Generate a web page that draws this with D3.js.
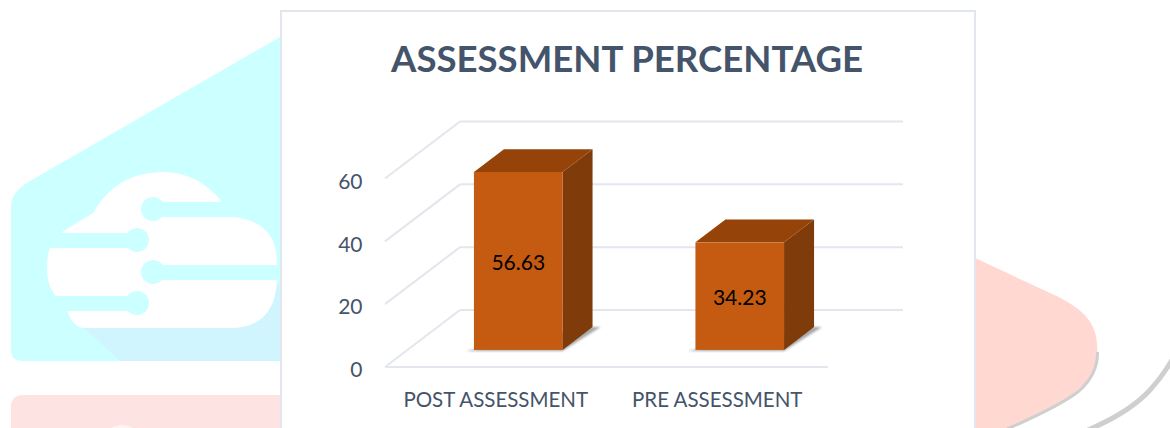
<!DOCTYPE html>
<html>
<head>
<meta charset="utf-8">
<script src="https://cdn.jsdelivr.net/npm/d3@7"></script>
<style>
  html, body { margin: 0; padding: 0; background: #fff; }
  svg { display: block; }
  text { font-family: Lato, sans-serif; }
</style>
</head>
<body>
<div id="chart"></div>
<script>
const categories = ["POST ASSESSMENT", "PRE ASSESSMENT"];
const values = [56.63, 34.23];
const yTicks = [0, 20, 40, 60];
const chartTitle = "ASSESSMENT PERCENTAGE";

const width = 1170, height = 428;
const textColor = "#44546a", gridColor = "#e3e6ec";

// floor of the 3d box: front edge and how far the back wall is shifted
const front = {left: 385, right: 828, y: 367};
const wall = {dx: 75, dy: -57};
// where the bars stand inside that depth
const barNear = 0.3, barFar = 0.7;

const svg = d3.select("#chart").append("svg")
    .attr("width", width)
    .attr("height", height);

// watermark behind the chart
const bg = svg.append("g");
bg.append("path")
    .attr("d", "M280,37 L30,181 Q11,192 11,206 L11,350 Q11,361 23,361 L280,361 Z")
    .attr("fill", "#ccffff");
bg.append("path")
    .attr("d", "M83,327 L120,361 L280,361 L280,282 L230,328 Z")
    .attr("fill", "#d0f5ff");
bg.append("path")
    .attr("d", "M62,232 L93,213 Q116,172 163,172 Q198,172 222,202 L222,217 L233,217 Q277,221 277,263 L277,280 Q275,328 230,328 L83,328 Q72,326 67,310 L55,295 Q47,285 47,270 Q47,255 50,248 Z")
    .attr("fill", "#ffffff");
[[40, 233, 137], [50, 296, 137], [153, 265, 280], [153, 202, 225]].forEach(s => {
  bg.append("rect").attr("x", s[0]).attr("y", s[1]).attr("width", s[2] - s[0]).attr("height", 15).attr("fill", "#ccffff");
});
[[137, 240], [137, 303], [153, 272], [153, 209]].forEach(c => {
  bg.append("circle").attr("cx", c[0]).attr("cy", c[1]).attr("r", 12).attr("fill", "#ccffff");
});
bg.append("path")
    .attr("d", "M11,428 L11,407 Q11,395 23,395 L280,395 L280,428 Z")
    .attr("fill", "#fde4e2");
bg.append("circle")
    .attr("cx", 122).attr("cy", 445).attr("r", 20)
    .attr("fill", "#fff4f0");
bg.append("path")
    .attr("d", "M1007,428 Q1060,405 1078,390 Q1100,372 1097,345 C1097,322 1080,306 1050,293 L975,258 L975,428 Z")
    .attr("fill", "#ffd8d2");
bg.append("path")
    .attr("d", "M1007,429 Q1060,406 1079,391 Q1098,374 1097.5,352")
    .attr("fill", "none").attr("stroke", "#cfcfcf").attr("stroke-width", 3);
bg.append("path")
    .attr("d", "M1088,430 Q1130,412 1150,390 Q1162,377 1172,360")
    .attr("fill", "none").attr("stroke", "#cfcfcf").attr("stroke-width", 5);

// white card
svg.append("rect")
    .attr("x", 281).attr("y", 11)
    .attr("width", 694).attr("height", 430)
    .attr("fill", "#fff")
    .attr("stroke", "#e2e7ee")
    .attr("stroke-width", 2);

svg.append("text")
    .attr("x", 627)
    .attr("y", 72)
    .attr("text-anchor", "middle")
    .attr("font-size", 36.6)
    .attr("font-weight", 700)
    .attr("fill", textColor)
    .text(chartTitle);

const x = d3.scaleBand()
    .domain(categories)
    .range([front.left, front.right])
    .paddingInner(0.6)
    .paddingOuter(0.3);

const y = d3.scaleLinear()
    .domain([0, 60])
    .range([0, 188.5]);

const g = svg.append("g");

// back wall, side wall and floor lines
yTicks.forEach(t => {
  const h = y(t);
  const backY = front.y + wall.dy - h;
  g.append("line")
      .attr("x1", front.left + wall.dx).attr("x2", front.right + wall.dx)
      .attr("y1", backY).attr("y2", backY)
      .attr("stroke", gridColor).attr("stroke-width", 2);
  g.append("line")
      .attr("x1", front.left).attr("x2", front.left + wall.dx)
      .attr("y1", front.y - h).attr("y2", backY)
      .attr("stroke", gridColor).attr("stroke-width", 2);
});
g.append("line")
    .attr("x1", front.left).attr("x2", front.right)
    .attr("y1", front.y).attr("y2", front.y)
    .attr("stroke", gridColor).attr("stroke-width", 2);

// value axis, only the labels show
g.append("g")
    .attr("transform", `translate(${front.left - 19.5},${front.y + 3})`)
    .call(d3.axisLeft(d3.scaleLinear().domain([0, 60]).range([0, -188.5])).tickValues(yTicks).tickSize(0))
    .call(a => a.select(".domain").remove())
    .call(a => a.selectAll("text").attr("font-size", 21).attr("fill", textColor).attr("font-family", "Lato, sans-serif"));

// category axis
g.append("g")
    .attr("transform", `translate(0,${front.y + 22})`)
    .call(d3.axisBottom(x).tickSize(0))
    .call(a => a.select(".domain").remove())
    .call(a => a.selectAll("text").attr("font-size", 20.5).attr("fill", textColor).attr("font-family", "Lato, sans-serif"));

const defs = svg.append("defs");
defs.append("filter").attr("id", "soft")
  .append("feGaussianBlur").attr("stdDeviation", 1);

// bars as 3d boxes
const nearX = wall.dx * barNear, nearY = front.y + wall.dy * barNear;
const ddx = wall.dx * (barFar - barNear), ddy = wall.dy * (barFar - barNear);

const bars = g.selectAll(".bar")
    .data(categories.map((c, i) => ({cat: c, val: values[i]})))
    .enter().append("g")
    .attr("class", "bar")
    .attr("transform", d => `translate(${x(d.cat) + nearX},${nearY})`);

bars.append("path")
    .attr("d", `M-8,1 L${x.bandwidth()},1 L${x.bandwidth() + ddx + 8},${ddy} L${x.bandwidth() + ddx},${ddy} Z`)
    .attr("fill", "#a8a8a8")
    .attr("filter", "url(#soft)");
bars.append("path")
    .attr("fill", "#7f3b0a")
    .attr("d", d => `M${x.bandwidth()},0 L${x.bandwidth()},${-y(d.val)} L${x.bandwidth() + ddx},${-y(d.val) + ddy} L${x.bandwidth() + ddx},${ddy} Z`);
bars.append("path")
    .attr("fill", "#964309")
    .attr("d", d => `M0,${-y(d.val)} L${ddx},${-y(d.val) + ddy} L${x.bandwidth() + ddx},${-y(d.val) + ddy} L${x.bandwidth()},${-y(d.val)} Z`);
bars.append("rect")
    .attr("fill", "#c55a11")
    .attr("x", 0)
    .attr("y", d => -y(d.val))
    .attr("width", x.bandwidth())
    .attr("height", d => y(d.val));
bars.append("text")
    .attr("x", x.bandwidth() / 2)
    .attr("y", d => -y(d.val) / 2 + 9)
    .attr("text-anchor", "middle")
    .attr("font-size", 21)
    .attr("fill", "#000")
    .text(d => d.val.toFixed(2));
</script>
</body>
</html>
